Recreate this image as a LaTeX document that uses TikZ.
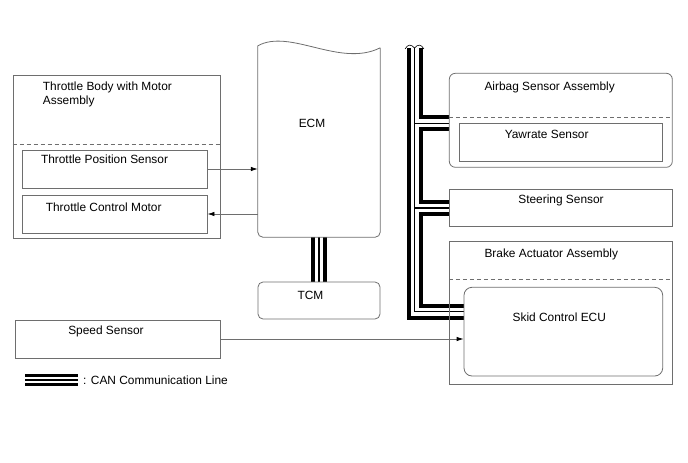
\documentclass[tikz,border=0pt]{standalone}
\usepackage{fontspec}
\setmainfont{Liberation Sans}
\usetikzlibrary{arrows.meta,backgrounds}

\definecolor{linegray}{RGB}{110,110,110}

\tikzset{
  box/.style={draw=linegray, line width=0.8pt, rectangle, inner sep=0pt},
  txt/.style={inner sep=0pt, font=\fontsize{11.9}{14}\selectfont},
  lbl/.style={txt, text height=8.6pt, text depth=0pt},
  sep/.style={draw=linegray, line width=0.8pt, dash pattern=on 4pt off 3pt},
  sig/.style={draw=linegray, line width=0.8pt, -{Latex[length=7pt,width=4.5pt,color=black]}},
  canout/.style={line width=16pt, black},
  cangap/.style={line width=8pt, white},
  cancore/.style={line width=1.2pt, black},
}

\begin{document}
\begin{tikzpicture}[x=1pt, y=-1pt]
\useasboundingbox (0,0) rectangle (688,463);

% throttle body
\node[box, minimum width=207pt, minimum height=162.3pt] (TB) at (116.5,156.9) {};
\node[txt, anchor=north west, align=left] (TBtxt) at (42.7,81.5)
{Throttle Body with Motor\\Assembly};
\draw[sep] (TB.west |- 0,144) -- (TB.east |- 0,144);

\node[box, minimum width=184.3pt, minimum height=38pt] (TPS) at (114.9,169) {};
\node[lbl] (TPStxt) at (104.5,159) {Throttle Position Sensor};

\node[box, minimum width=184.3pt, minimum height=38pt] (TCMot) at (114.9,214) {};
\node[lbl] (TCMottxt) at (103.7,207) {Throttle Control Motor};

% speed sensor
\node[box, minimum width=205.7pt, minimum height=38pt] (Speed) at (117.9,339) {};
\node[lbl] (Speedtxt) at (106,330) {Speed Sensor};

% ECM and TCM
\node[inner sep=0pt, minimum width=122pt, minimum height=189pt] (ECM) at (319,142.5) {};
\draw[linegray, line width=0.8pt] (ECM.north east) [rounded corners=5pt]-- (ECM.south east)
  -- (ECM.south west) [sharp corners]-- ([yshift=2pt]ECM.north west)
  .. controls (290,28) and (340,68) .. (ECM.north east);
\node[lbl] (ECMtxt) at (312,123) {ECM};

\node[box, rounded corners=5pt, minimum width=122pt, minimum height=37pt] (TCM) at (319,300.5) {};
\node[lbl] (TCMtxt) at (310.5,295) {TCM};

% airbag sensor assembly
\node[box, rounded corners=6pt, minimum width=223pt, minimum height=94pt] (Airbag) at (560.8,120.3) {};
\node[lbl] (Airbagtxt) at (549.7,86) {Airbag Sensor Assembly};
\draw[sep] (Airbag.west |- 0,117.3) -- (Airbag.east |- 0,117.3);
\node[box, minimum width=203.7pt, minimum height=37.7pt] (Yaw) at (560.85,142.15) {};
\node[lbl] (Yawtxt) at (546.7,134) {Yawrate Sensor};

% steering sensor
\node[box, minimum width=223pt, minimum height=37.4pt] (Steer) at (560.8,208) {};
\node[lbl] (Steertxt) at (561,199.3) {Steering Sensor};

% brake actuator assembly
\node[box, minimum width=223pt, minimum height=142.3pt] (Brake) at (560.8,312.85) {};
\node[lbl] (Braketxt) at (551.3,252.7) {Brake Actuator Assembly};
\draw[sep] (Brake.west |- 0,279.3) -- (Brake.east |- 0,279.3);
\node[box, rounded corners=8pt, minimum width=198.7pt, minimum height=88.7pt] (Skid) at (563.35,331.65) {};
\node[lbl] (Skidtxt) at (559.3,317.3) {Skid Control ECU};

% signal lines
\draw[sig] (TPS.east) -- (TPS.east -| ECM.west);
\draw[sig] (TCMot.east -| ECM.west) -- (TCMot.east);
\draw[sig] (Speed.east) -- (Speed.east -| Skid.west);

% CAN lines
\coordinate (bustop) at (414.5,48);
\coordinate (brAirbag) at ([yshift=-3pt]Airbag.west);
\coordinate (brSteer) at (Steer.west);
\coordinate (brSkid) at ([yshift=20pt]Skid.west);
\coordinate (legA) at (25,380);
\coordinate (legB) at (78,380);
\begin{scope}[on background layer]
\foreach \s in {canout, cangap, cancore}{
  \draw[\s] (ECM.south) -- (TCM.north);
  \foreach \t in {brAirbag, brSteer, brSkid}
    \draw[\s] (bustop) |- (\t);
}
\end{scope}
\draw[line width=0.6pt] (405,49) .. controls (408,44) and (411,44) .. (414.5,48)
  .. controls (418,44) and (421,44) .. (424,49);

% legend
\draw[line width=12.5pt] (legA) -- (legB);
\draw[white, line width=6pt] (legA) -- (legB);
\draw[line width=1.2pt] (legA) -- (legB);
\node[txt, anchor=west] (legtxt) at (83,380.7) {: CAN Communication Line};

\end{tikzpicture}
\end{document}
